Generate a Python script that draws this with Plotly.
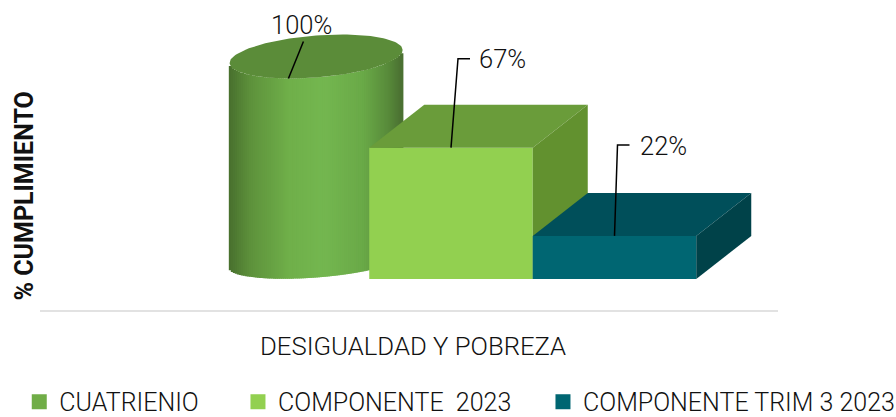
import numpy as np
import plotly.graph_objects as go

# ---- data ----
category = "DESIGUALDAD Y POBREZA"
y_title = "% CUMPLIMIENTO"
series_names = ["CUATRIENIO", "COMPONENTE\u00a0\u00a02023", "COMPONENTE TRIM 3 2023"]
values = [100, 67, 22]
labels = ["100%", "67%", "22%"]
legend_colors = ["#70AD47", "#92D050", "#006672"]

# ---- scales (plot area fills the page) ----
W, H = 896, 417
PX_X = 163.5          # pixels per bar width
PX_Y = 1.96           # pixels per percentage point
X0_PX, Y0_PX = 451, 279   # pixel position of x=1, y=0
xr = [1 - X0_PX / PX_X, 1 + (W - X0_PX) / PX_X]
yr = [-(H - Y0_PX) / PX_Y, Y0_PX / PX_Y]
dx = lambda p: p / PX_X
dy = lambda p: p / PX_Y

DEPTH_X, DEPTH_Y = dx(55), dy(43)
FONT = "Roboto"
fig = go.Figure()

# ---- cylinder (series 0) ----
cx, rx = 0.175, dx(86.5)
cyl_floor, cyl_stretch = dy(17.5), 1.046
tilt = dy(6.5)
ry_top, ry_bot = dy(21), dy(16)
n = 87
edges = np.linspace(-1, 1, n + 1)
u = (edges[:-1] + edges[1:]) / 2
top_c = cyl_floor + values[0] * cyl_stretch
front = lambda c, ry, t: c + tilt * t - ry * np.sqrt(1 - t ** 2)

stops_pos = [-1.0, -0.75, -0.3, 0.1, 0.55, 0.85, 1.0]
stops_rgb = np.array([[72, 112, 46], [94, 146, 60], [112, 176, 74], [116, 183, 80],
                      [106, 170, 72], [88, 138, 58], [74, 112, 50]])
rgb = np.stack([np.interp(u, stops_pos, stops_rgb[:, i]) for i in range(3)], axis=1)
strip_colors = [f"rgb({int(r)},{int(g)},{int(b)})" for r, g, b in rgb]
lo = front(cyl_floor, ry_bot, u)
hi = front(top_c, ry_top, u)
fig.add_bar(x=cx + rx * u, y=hi - lo, base=lo, width=rx * 2 / n * 1.8,
            marker=dict(color=strip_colors, line_width=0), showlegend=False, hoverinfo="skip")

t = np.linspace(0, 2 * np.pi, 121)
fig.add_scatter(x=cx + rx * np.cos(t), y=top_c + tilt * np.cos(t) + ry_top * np.sin(t),
                mode="lines", line_width=0, fill="toself", fillcolor="#5B8C39",
                showlegend=False, hoverinfo="skip")

# ---- boxes (series 1, 2) ----
boxes = [(1.0, values[1], "#92D050", "#6A9C3A", "#62912F"),
         (2.0, values[2], "#006672", "#004F5A", "#004249")]
for xc, v, c_front, c_top, c_side in boxes:
    l, r = xc - 0.5, xc + 0.5
    faces = [
        ([l, r, r, l, l], [0, 0, v, v, 0], c_front),
        ([l, r, r + DEPTH_X, l + DEPTH_X, l], [v, v, v + DEPTH_Y, v + DEPTH_Y, v], c_top),
        ([r, r + DEPTH_X, r + DEPTH_X, r, r], [0, DEPTH_Y, v + DEPTH_Y, v, 0], c_side),
    ]
    for fx, fy, fc in faces:
        fig.add_scatter(x=fx, y=fy, mode="lines", line_width=0, fill="toself", fillcolor=fc,
                        showlegend=False, hoverinfo="skip")

# ---- leader lines and value labels ----
u0 = -0.32
cyl_anchor = (cx + rx * u0, float(front(top_c, ry_top, np.array(u0))))
leaders = [
    (cyl_anchor, [(0, 0), (dx(15), dy(37))], (dx(-19), dy(53)), "left"),
    ((1.0, values[1]), [(0, 0), (dx(7), dy(89)), (dx(19), dy(89))], (dx(25.5), dy(89)), "left"),
    ((2.0, values[2]), [(0, 0), (dx(3), dy(91)), (dx(15), dy(91))], (dx(23), dy(90)), "left"),
]
for ((ax, ay), path, (lx, ly), anchor), text in zip(leaders, labels):
    fig.add_scatter(x=[ax + p[0] for p in path], y=[ay + p[1] for p in path], mode="lines",
                    line=dict(color="#000000", width=1.5), showlegend=False, hoverinfo="skip")
    fig.add_annotation(x=ax + lx, y=ay + ly, text=text, showarrow=False, xanchor=anchor,
                       yanchor="middle", xref="x", yref="y",
                       font=dict(family=FONT, size=25.5, color="#111111", weight=300))

# ---- legends (one per entry so each sits where the original does) ----
legend_pos = [(0.0215, "legend"), (0.2656, "legend2"), (0.606, "legend3")]
for name, col, (lx, key) in zip(series_names, legend_colors, legend_pos):
    fig.add_scatter(x=[None], y=[None], name=name, mode="markers", legend=key,
                    marker=dict(symbol="square", size=15, color=col, line_width=0))
legend_common = dict(y=0.036, yanchor="middle", xanchor="left", bgcolor="rgba(0,0,0,0)",
                     font=dict(family=FONT, size=25, color="#111111", weight=300),
                     tracegroupgap=0, borderwidth=0)

# ---- baseline, category label, axis title ----
fig.add_shape(type="line", xref="x", yref="y", x0=1 + dx(40 - X0_PX), x1=1 + dx(778 - X0_PX),
              y0=dy(-32), y1=dy(-32), line=dict(color="#E2E2E2", width=2), layer="below")
fig.add_annotation(x=1 + dx(413 - X0_PX), y=dy(-67), text=category, showarrow=False,
                   font=dict(family=FONT, size=25.7, color="#111111", weight=300))
fig.add_annotation(x=1 + dx(23.5 - X0_PX), y=dy(279 - 196), text=y_title, showarrow=False, textangle=-90,
                   font=dict(family=FONT, size=25, color="#111111", weight=700))

fig.update_layout(
    width=W, height=H,
    margin=dict(l=0, r=0, t=0, b=0, autoexpand=False), paper_bgcolor="white", plot_bgcolor="white",
    barmode="overlay",
    xaxis=dict(range=xr, visible=False, fixedrange=True),
    yaxis=dict(range=yr, visible=False, fixedrange=True),
    legend=dict(x=legend_pos[0][0], **legend_common),
    legend2=dict(x=legend_pos[1][0], **legend_common),
    legend3=dict(x=legend_pos[2][0], **legend_common),
)
fig.write_html("out.html", config={"displayModeBar": False},
               post_script="document.body.style.margin='0';")
